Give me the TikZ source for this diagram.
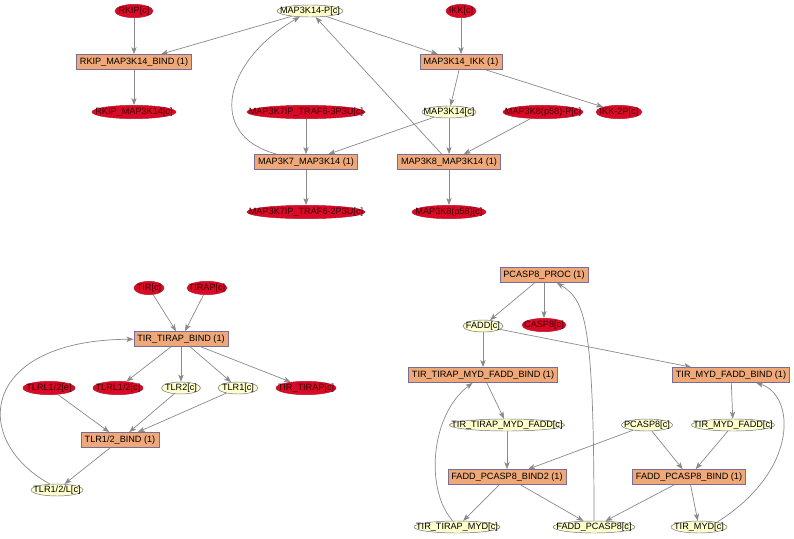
\documentclass[tikz,border=0pt]{standalone}
\usepackage{fontspec}
\setmainfont{Liberation Sans}
\usepackage{xcolor}
\usetikzlibrary{shapes.geometric,arrows.meta}
\definecolor{NetRxn}{HTML}{EFA878}
\definecolor{NetRxnLine}{HTML}{7A6C98}
\definecolor{NetSpc}{HTML}{FFFFCC}
\definecolor{NetSpcLine}{HTML}{6A6A88}
\definecolor{NetExt}{HTML}{DA0A26}
\definecolor{NetExtLine}{HTML}{B8102C}
\definecolor{NetExtText}{HTML}{3A0008}
\definecolor{NetEdge}{HTML}{8A8A8A}

\begin{document}
\begin{tikzpicture}[x=0.3mm,y=-0.3mm,
  rxn/.style={draw=NetRxnLine,fill=NetRxn,rectangle,minimum height=13pt,inner xsep=3pt,inner ysep=0pt,font=\fontsize{7.8}{9}\selectfont},
  spc/.style={draw=NetSpcLine,fill=NetSpc,ellipse,minimum width=#1,minimum height=3.6mm,inner xsep=-30pt,inner ysep=-4pt,font=\fontsize{7.8}{9}\selectfont},
  ext/.style={draw=NetExtLine,fill=NetExt,ellipse,minimum width=#1,minimum height=4mm,inner xsep=-30pt,inner ysep=-4pt,text=NetExtText,font=\fontsize{7.8}{9}\selectfont},
  link/.style={draw=NetEdge,line width=.6pt,-{Stealth[length=6pt,width=4.5pt,inset=1.5pt]}}]
\path[use as bounding box] (0,0) rectangle (794,539);
\fill[white] (0,0) rectangle (794,539);
% MAP3K14 part
\node[ext=11.4mm] (rkip) at (134,11) {RKIP[c]};
\node[spc=19.8mm] (mp) at (310,11) {MAP3K14-P[c]};
\node[ext=9mm] (ikk) at (461,11) {IKK[c]};
\node[rxn] (rb) at (134,62) {RKIP\_MAP3K14\_BIND (1)};
\node[rxn] (mi) at (461,62) {MAP3K14\_IKK (1)};
\node[ext=25.2mm] (rkm) at (134,112) {RKIP\_MAP3K14[c]};
\node[ext=35.4mm] (t3p) at (306,112) {MAP3K7IP\_TRAF6-3P3U[c]};
\node[spc=16.2mm] (m14) at (449,112) {MAP3K14[c]};
\node[ext=24mm] (m8p) at (543,112) {MAP3K8(p58)-P[c]};
\node[ext=13.8mm] (ikk2p) at (619,112) {IKK-2P[c]};
\node[rxn] (m7) at (306,162) {MAP3K7\_MAP3K14 (1)};
\node[rxn] (m8) at (449,162) {MAP3K8\_MAP3K14 (1)};
\node[ext=35.4mm] (t2p) at (306,212) {MAP3K7IP\_TRAF6-2P3U[c]};
\node[ext=22.2mm] (m8f) at (449,212) {MAP3K8(p58)[c]};
\draw[link] (rkip) -- (rb);
\draw[link] (mp) -- (rb);
\draw[link] (mp) -- (mi);
\draw[link] (ikk) -- (mi);
\draw[link] (rb) -- (rkm);
\draw[link] (mi) -- (m14);
\draw[link] (mi) -- (ikk2p);
\draw[link] (m14) -- (m7);
\draw[link] (t3p) -- (m7);
\draw[link] (m14) -- (m8);
\draw[link] (m8p) -- (m8);
\draw[link] (m7) .. controls (205,135) and (225,60) .. (mp);
\draw[link] (m8) -- (mp);
\draw[link] (m7) -- (t2p);
\draw[link] (m8) -- (m8f);
% TLR part
\node[ext=9mm] (tir) at (149,288) {TIR[c]};
\node[ext=12mm] (tirap) at (207,288) {TIRAP[c]};
\node[rxn] (ttb) at (181,339) {TIR\_TIRAP\_BIND (1)};
\node[ext=15.6mm] (tle) at (49,388) {TLRL1/2[e]};
\node[ext=15mm] (tlc) at (118,388) {TLRL1/2[c]};
\node[spc=11.7mm] (tlr2) at (181,388) {TLR2[c]};
\node[spc=12mm] (tlr1) at (238,388) {TLR1[c]};
\node[ext=18mm] (tt) at (306,388) {TIR\_TIRAP[c]};
\node[rxn] (tlb) at (120,440) {TLR1/2\_BIND (1)};
\node[spc=15.6mm] (tll) at (57,490) {TLR1/2/L[c]};
\draw[link] (tir) -- (ttb);
\draw[link] (tirap) -- (ttb);
\draw[link] (ttb) -- (tlc);
\draw[link] (ttb) -- (tlr2);
\draw[link] (ttb) -- (tlr1);
\draw[link] (ttb) -- (tt);
\draw[link] (tle) -- (tlb);
\draw[link] (tlr2) -- (tlb);
\draw[link] (tlr1) -- (tlb);
\draw[link] (tlb) -- (tll);
\draw[link] (tll.140) .. controls (-30,440) and (-20,340) .. (ttb);
% PCASP8 part
\node[rxn] (pp) at (544,275) {PCASP8\_PROC (1)};
\node[spc=12mm] (fadd) at (483,326) {FADD[c]};
\node[ext=13.2mm] (casp8) at (544,325) {CASP8[c]};
\node[rxn] (ttmfb) at (483,375) {TIR\_TIRAP\_MYD\_FADD\_BIND (1)};
\node[rxn] (tmfb) at (731,375) {TIR\_MYD\_FADD\_BIND (1)};
\node[spc=34.5mm] (ttmf) at (507,425) {TIR\_TIRAP\_MYD\_FADD[c]};
\node[spc=15.3mm] (pc8) at (647,425) {PCASP8[c]};
\node[spc=24.9mm] (tmf) at (733,425) {TIR\_MYD\_FADD[c]};
\node[rxn] (fpb2) at (507,477) {FADD\_PCASP8\_BIND2 (1)};
\node[rxn] (fpb) at (689,477) {FADD\_PCASP8\_BIND (1)};
\node[spc=25.8mm] (ttm) at (457,527) {TIR\_TIRAP\_MYD[c]};
\node[spc=24.6mm] (fp) at (594,527) {FADD\_PCASP8[c]};
\node[spc=16.8mm] (tm) at (699,527) {TIR\_MYD[c]};
\draw[link] (pp) -- (fadd);
\draw[link] (pp) -- (casp8);
\draw[link] (fadd) -- (ttmfb);
\draw[link] (fadd) -- (tmfb);
\draw[link] (ttmfb) -- (ttmf);
\draw[link] (tmfb) -- (tmf);
\draw[link] (ttmf) -- (fpb2);
\draw[link] (pc8) -- (fpb2);
\draw[link] (pc8) -- (fpb);
\draw[link] (tmf) -- (fpb);
\draw[link] (fpb2) -- (ttm);
\draw[link] (fpb2) -- (fp);
\draw[link] (fpb) -- (fp);
\draw[link] (fpb) -- (tm);
\draw[link] (ttm.125) .. controls (425,490) and (430,415) .. (ttmfb);
\draw[link] (tm.15) .. controls (800,470) and (795,395) .. (tmfb);
\draw[link] (fp) .. controls (594,320) and (585,300) .. (pp);
\end{tikzpicture}
\end{document}
